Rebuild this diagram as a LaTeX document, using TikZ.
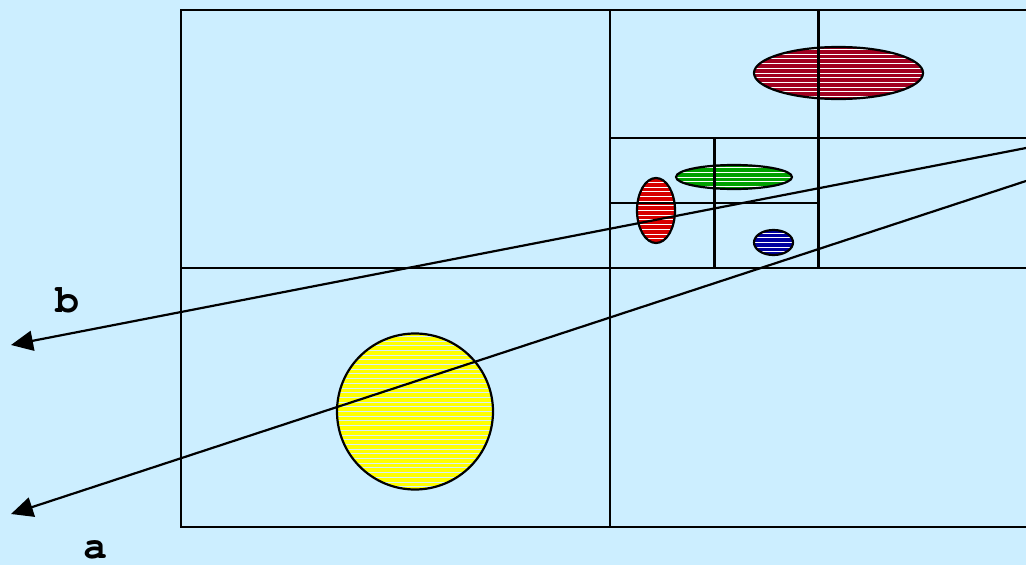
\documentclass[tikz,border=0pt]{standalone}
\usepackage{fontspec}
\newfontfamily\labelfont{TeX Gyre Cursor}
\usetikzlibrary{arrows.meta}
\definecolor{bg}{RGB}{204,238,255}
\definecolor{darkred}{RGB}{160,0,32}
\definecolor{brightred}{RGB}{215,0,0}
\definecolor{grn}{RGB}{0,160,0}
\definecolor{blu}{RGB}{0,0,160}
\definecolor{yel}{RGB}{255,255,0}
\definecolor{stripeY}{RGB}{215,240,250}
\tikzset{
  grid/.style={line width=2.2pt, line cap=rect},
  outline/.style={line width=2.2pt},
  ray/.style={line width=2.2pt, -{Triangle[length=22pt,width=20pt]}},
  lbl/.style={font=\labelfont\bfseries\fontsize{40}{40}\selectfont, inner sep=0pt}
}
\newcommand{\striped}[6]{% cx, cy, rx, ry, fill, stripe
  \begin{scope}
    \clip (#1,#2) ellipse ({#3} and {#4});
    \fill[#5] (#1,#2) ellipse ({#3} and {#4});
    \foreach \k in {-20,...,20} {
      \draw[#6, line width=1pt] ({#1-#3},{#2+\k*4.7}) -- ({#1+#3},{#2+\k*4.7});
    }
  \end{scope}
  \draw[outline] (#1,#2) ellipse ({#3} and {#4});
}
\begin{document}
\begin{tikzpicture}[x=1pt,y=-1pt]
\fill[bg] (0,0) rectangle (1026,565);
\useasboundingbox (0,0) rectangle (1026,565);
% shapes
\striped{838.5}{73}{84.5}{26}{darkred}{white}
\striped{734}{177}{58}{12}{grn}{white}
\striped{656}{210.5}{19}{32.5}{brightred}{white}
\striped{773.5}{242.5}{19.5}{12.5}{blu}{white}
\striped{415}{411.5}{78}{78}{yel}{stripeY}
% quadtree
\draw[grid] (181,10) rectangle (1040,527);
\draw[grid] (610,10) -- (610,527);
\draw[grid] (181,268) -- (1040,268);
\draw[grid] (818.5,10) -- (818.5,268);
\draw[grid] (610,138) -- (1040,138);
\draw[grid] (714.5,138) -- (714.5,268);
\draw[grid] (610,203) -- (818.5,203);
% rays
\coordinate (bstart) at (1026,148);
\coordinate (bend) at (11,345);
\coordinate (astart) at (1026,181);
\coordinate (aend) at (11,514);
\draw[ray] (bstart) -- (bend);
\draw[ray] (astart) -- (aend);
\node[lbl] (lb) at (67,300.5) {b};
\node[lbl] (la) at (95,550) {a};
\end{tikzpicture}
\end{document}
